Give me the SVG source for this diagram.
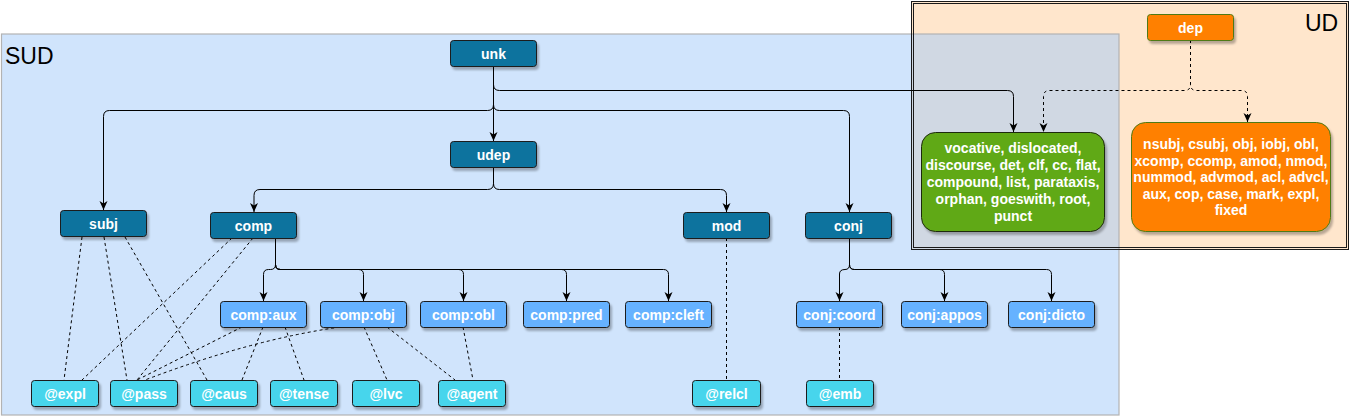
<svg xmlns="http://www.w3.org/2000/svg" width="1351" height="418" viewBox="0 0 1351 418">
<defs>
<filter id="sh" x="-20%" y="-20%" width="140%" height="160%">
<feDropShadow dx="2" dy="3" stdDeviation="1" flood-color="#000" flood-opacity="0.28"/>
</filter>
<marker id="arr" markerUnits="userSpaceOnUse" markerWidth="10" markerHeight="10" refX="9" refY="4" orient="auto">
<path d="M0,0 L9,4 L0,8 L2.5,4 Z" fill="#000"/>
</marker>
<style>
.n rect{stroke:#1a1a1a;stroke-width:1;filter:url(#sh)}
.n text{font-family:"Liberation Sans",Arial,sans-serif;font-weight:bold;font-size:14px;fill:#fff;text-anchor:middle}
.dk rect{fill:#10739e}
.lb rect{fill:#66b2ff}
.cy rect{fill:#47d5ec}
.e{fill:none;stroke:#000;stroke-width:1}
.a{marker-end:url(#arr)}
.d{stroke-dasharray:3,3}
.lbl{font-family:"Liberation Sans",Arial,sans-serif;font-size:23px;fill:#000}
</style>
</defs>

<g id="ud-container">
<rect x="911" y="1" width="438" height="249" fill="#ffe6cc"/>
</g>
<g id="sud-container">
<rect x="1.5" y="34" width="1117.5" height="381" fill="#a1c9f9" fill-opacity="0.5" stroke="#b3b3b3" stroke-width="1.2"/>
<text class="lbl" x="5" y="64">SUD</text>
</g>
<g id="ud-border">
<rect x="911.5" y="1.5" width="437" height="248" fill="none" stroke="#1a1a1a" stroke-width="1"/>
<rect x="913.5" y="3.5" width="433" height="244" fill="none" stroke="#1a1a1a" stroke-width="1"/>
<text class="lbl" x="1305" y="31">UD</text>
</g>

<g id="connectors">
<path class="e a" d="M493.5,66 V84.5 Q493.5,90.5 499.5,90.5 H1007.5 Q1013.5,90.5 1013.5,96.5 V132"/>
<path class="e a" d="M493.5,66 V141"/>
<path class="e a" d="M493.5,66 V104.5 Q493.5,110.5 487.5,110.5 H109.5 Q103.5,110.5 103.5,116.5 V210"/>
<path class="e a" d="M493.5,66 V104.5 Q493.5,110.5 499.5,110.5 H843.5 Q849.5,110.5 849.5,116.5 V212"/>
<path class="e a" d="M493.5,167 V183.5 Q493.5,189.5 487.5,189.5 H260 Q254,189.5 254,195.5 V212"/>
<path class="e a" d="M493.5,167 V183.5 Q493.5,189.5 499.5,189.5 H720.5 Q726.5,189.5 726.5,195.5 V212"/>
<path class="e a" d="M275.5,238 V264.5 Q275.5,269.5 270.5,269.5 H268.5 Q263.5,269.5 263.5,274.5 V301"/>
<path class="e a" d="M275.5,238 V264.5 Q275.5,269.5 280.5,269.5 H358.5 Q363.5,269.5 363.5,274.5 V301"/>
<path class="e a" d="M275.5,238 V264.5 Q275.5,269.5 280.5,269.5 H458.5 Q463.5,269.5 463.5,274.5 V301"/>
<path class="e a" d="M275.5,238 V264.5 Q275.5,269.5 280.5,269.5 H561.5 Q566.5,269.5 566.5,274.5 V301"/>
<path class="e a" d="M275.5,238 V264.5 Q275.5,269.5 280.5,269.5 H663.5 Q668.5,269.5 668.5,274.5 V301"/>
<path class="e a" d="M849.5,238 V264.5 Q849.5,269.5 845,269.5 Q839.5,269.5 839.5,274 V301"/>
<path class="e a" d="M849.5,238 V264.5 Q849.5,269.5 854.5,269.5 H939.5 Q944.5,269.5 944.5,274.5 V301"/>
<path class="e a" d="M849.5,238 V264.5 Q849.5,269.5 854.5,269.5 H1046.5 Q1051.5,269.5 1051.5,274.5 V301"/>
<path class="e a d" d="M1190.5,40 V84.5 Q1190.5,90.5 1184.5,90.5 H1049.5 Q1043.5,90.5 1043.5,96.5 V132"/>
<path class="e a d" d="M1190.5,40 V84.5 Q1190.5,90.5 1196.5,90.5 H1241.5 Q1247.5,90.5 1247.5,96.5 V122"/>
<path class="e d" d="M82,237 L64,380"/>
<path class="e d" d="M104,237 L127,380"/>
<path class="e d" d="M125,237 L207,380"/>
<path class="e d" d="M232,238 L82,380"/>
<path class="e d" d="M253,238 L137,380"/>
<path class="e d" d="M242,327 L137,380"/>
<path class="e d" d="M263,327 L242,380"/>
<path class="e d" d="M285,327 L304,380"/>
<path class="e d" d="M340,327 Q250,340 145,380"/>
<path class="e d" d="M364,327 L387,380"/>
<path class="e d" d="M387,327 L455,380"/>
<path class="e d" d="M463,327 L473,380"/>
<path class="e d" d="M726.5,238 V380"/>
<path class="e d" d="M839.5,327 V380"/>
</g>

<g id="unk" class="n dk"><rect x="450.5" y="40.5" width="86" height="26" rx="3"/><text x="493.5" y="58.5">unk</text></g>
<g id="udep" class="n dk"><rect x="450.5" y="141.5" width="86" height="26" rx="3"/><text x="493.5" y="159.5">udep</text></g>
<g id="subj" class="n dk"><rect x="60.5" y="210.5" width="86" height="26" rx="3"/><text x="103.5" y="228.5">subj</text></g>
<g id="comp" class="n dk"><rect x="210.5" y="212.5" width="86" height="26" rx="3"/><text x="253.5" y="230.5">comp</text></g>
<g id="mod" class="n dk"><rect x="683.5" y="212.5" width="86" height="26" rx="3"/><text x="726.5" y="230.5">mod</text></g>
<g id="conj" class="n dk"><rect x="805.5" y="212.5" width="86" height="26" rx="3"/><text x="848.5" y="230.5">conj</text></g>

<g id="comp-aux" class="n lb"><rect x="220.5" y="301.5" width="86" height="26" rx="3"/><text x="263.5" y="319.5">comp:aux</text></g>
<g id="comp-obj" class="n lb"><rect x="320.5" y="301.5" width="86" height="26" rx="3"/><text x="363.5" y="319.5">comp:obj</text></g>
<g id="comp-obl" class="n lb"><rect x="420.5" y="301.5" width="86" height="26" rx="3"/><text x="463.5" y="319.5">comp:obl</text></g>
<g id="comp-pred" class="n lb"><rect x="523.5" y="301.5" width="86" height="26" rx="3"/><text x="566.5" y="319.5">comp:pred</text></g>
<g id="comp-cleft" class="n lb"><rect x="625.5" y="301.5" width="86" height="26" rx="3"/><text x="668.5" y="319.5">comp:cleft</text></g>
<g id="conj-coord" class="n lb"><rect x="796.5" y="301.5" width="86" height="26" rx="3"/><text x="839.5" y="319.5">conj:coord</text></g>
<g id="conj-appos" class="n lb"><rect x="901.5" y="301.5" width="86" height="26" rx="3"/><text x="944.5" y="319.5">conj:appos</text></g>
<g id="conj-dicto" class="n lb"><rect x="1008.5" y="301.5" width="86" height="26" rx="3"/><text x="1051.5" y="319.5">conj:dicto</text></g>

<g id="expl" class="n cy"><rect x="31.5" y="380.5" width="67" height="26" rx="3"/><text x="65" y="398.5">@expl</text></g>
<g id="pass" class="n cy"><rect x="110.5" y="380.5" width="67" height="26" rx="3"/><text x="144" y="398.5">@pass</text></g>
<g id="caus" class="n cy"><rect x="190.5" y="380.5" width="67" height="26" rx="3"/><text x="224" y="398.5">@caus</text></g>
<g id="tense" class="n cy"><rect x="270.5" y="380.5" width="67" height="26" rx="3"/><text x="304" y="398.5">@tense</text></g>
<g id="lvc" class="n cy"><rect x="352.5" y="380.5" width="67" height="26" rx="3"/><text x="386" y="398.5">@lvc</text></g>
<g id="agent" class="n cy"><rect x="438.5" y="380.5" width="67" height="26" rx="3"/><text x="472" y="398.5">@agent</text></g>
<g id="relcl" class="n cy"><rect x="692.5" y="380.5" width="68" height="26" rx="3"/><text x="726.5" y="398.5">@relcl</text></g>
<g id="emb" class="n cy"><rect x="806.5" y="380.5" width="67" height="26" rx="3"/><text x="840" y="398.5">@emb</text></g>

<g id="dep" class="n"><rect x="1147.5" y="14.5" width="86" height="26" rx="3" fill="#ff8000" style="stroke:#4f7a16"/><text x="1190.5" y="32.5">dep</text></g>

<g id="ud-green" class="n"><rect x="921.5" y="132.5" width="183" height="99" rx="14" fill="#60a917" style="stroke:#1f2a10"/>
<text x="1013" y="153">vocative, dislocated,</text>
<text x="1013" y="170">discourse, det, clf, cc, flat,</text>
<text x="1013" y="187">compound, list, parataxis,</text>
<text x="1013" y="204">orphan, goeswith, root,</text>
<text x="1013" y="221">punct</text>
</g>

<g id="ud-orange" class="n"><rect x="1131.5" y="122.5" width="199" height="109" rx="14" fill="#ff8000" style="stroke:#4f7a16"/>
<text x="1231" y="149">nsubj, csubj, obj, iobj, obl,</text>
<text x="1231" y="165.5">xcomp, ccomp, amod, nmod,</text>
<text x="1231" y="182">nummod, advmod, acl, advcl,</text>
<text x="1231" y="198.5">aux, cop, case, mark, expl,</text>
<text x="1231" y="215">fixed</text>
</g>
</svg>
